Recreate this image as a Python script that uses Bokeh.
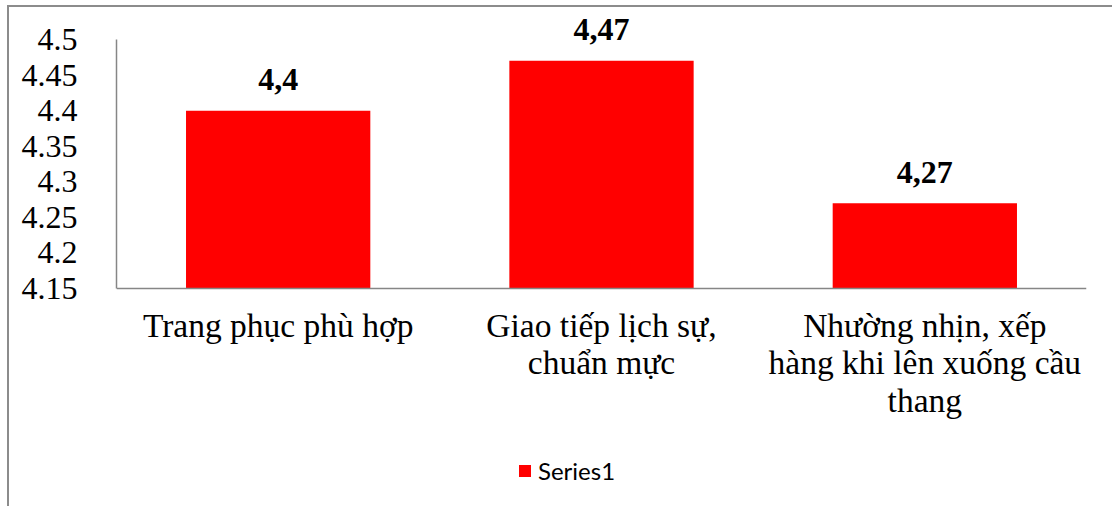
from bokeh.plotting import figure
from bokeh.models import ColumnDataSource, Range1d, FixedTicker, Legend, LegendItem, FactorRange
from bokeh.core.properties import value
from bokeh.embed import file_html
from bokeh.resources import INLINE

categories = ["Trang phục phù hợp", "Giao tiếp lịch sự,\nchuẩn mực", "Nhường nhịn, xếp\nhàng khi lên xuống cầu\nthang"]
values = [4.4, 4.47, 4.27]
value_labels = ["4,4", "4,47", "4,27"]
y_ticks = [4.15, 4.2, 4.25, 4.3, 4.35, 4.4, 4.45, 4.5]
y_tick_labels = ["4.15", "4.2", "4.25", "4.3", "4.35", "4.4", "4.45", "4.5"]
series_name = "Series1"

Y_MIN, Y_MAX = 4.15, 4.5
W, H = 1112, 506
# frame spans from y=10 to the bottom of the canvas; axis bounds keep the drawn axis at 4.15..4.5
p = figure(width=W, height=H, x_range=FactorRange(factors=categories, range_padding=0),
           y_range=Range1d(3.8436, 4.5408), output_backend="svg", toolbar_location=None,
           min_border_left=116, min_border_right=26, min_border_top=10, min_border_bottom=0)
p.styles = {
    "background": "linear-gradient(#8c8c8c,#8c8c8c) 7px 5px / 2px 100% no-repeat, "
                  "linear-gradient(#8c8c8c,#8c8c8c) 7px 5px / 100% 2px no-repeat, white"
}
p.outline_line_color = None
p.grid.visible = False
p.background_fill_color = None
p.border_fill_color = None

src = ColumnDataSource(dict(cat=categories, val=values, lab=value_labels))
bars = p.vbar(x="cat", top="val", bottom=Y_MIN, width=0.57, source=src,
              fill_color="#FF0000", line_color=None)
p.text(x="cat", y="val", text="lab", source=src, y_offset=-31,
       text_align="center", text_baseline="alphabetic",
       text_font=value("Liberation Serif"), text_font_style="bold",
       text_font_size="32px", text_color="black")

ya = p.yaxis[0]
ya.ticker = FixedTicker(ticks=y_ticks)
ya.bounds = (Y_MIN, Y_MAX)
ya.major_label_overrides = {t: l for t, l in zip(y_ticks, y_tick_labels)}
ya.major_tick_line_color = None
ya.minor_tick_line_color = None
ya.axis_line_color = "#868686"
ya.axis_line_width = 1.5
ya.major_label_text_font = "Liberation Serif"
ya.major_label_text_font_size = "32px"
ya.major_label_text_color = "black"
ya.major_label_standoff = 33

xa = p.xaxis[0]
xa.fixed_location = Y_MIN
xa.major_tick_line_color = None
xa.minor_tick_line_color = None
xa.axis_line_color = "#868686"
xa.axis_line_width = 1.5
xa.major_label_text_font = "Liberation Serif"
xa.major_label_text_font_size = "33.5px"
xa.major_label_text_color = "black"
xa.major_label_text_line_height = 1.02
xa.major_label_standoff = 12

legend = Legend(items=[LegendItem(label=series_name, renderers=[bars])],
                location=(401, 21), orientation="horizontal",
                padding=0, margin=0, spacing=0, border_line_color=None,
                background_fill_alpha=0, glyph_width=15, glyph_height=15,
                label_standoff=6, label_text_font="Lato", label_text_font_size="24px",
                label_text_color="black")
p.add_layout(legend, "center")

open("out.html", "w").write(file_html(p, INLINE))
